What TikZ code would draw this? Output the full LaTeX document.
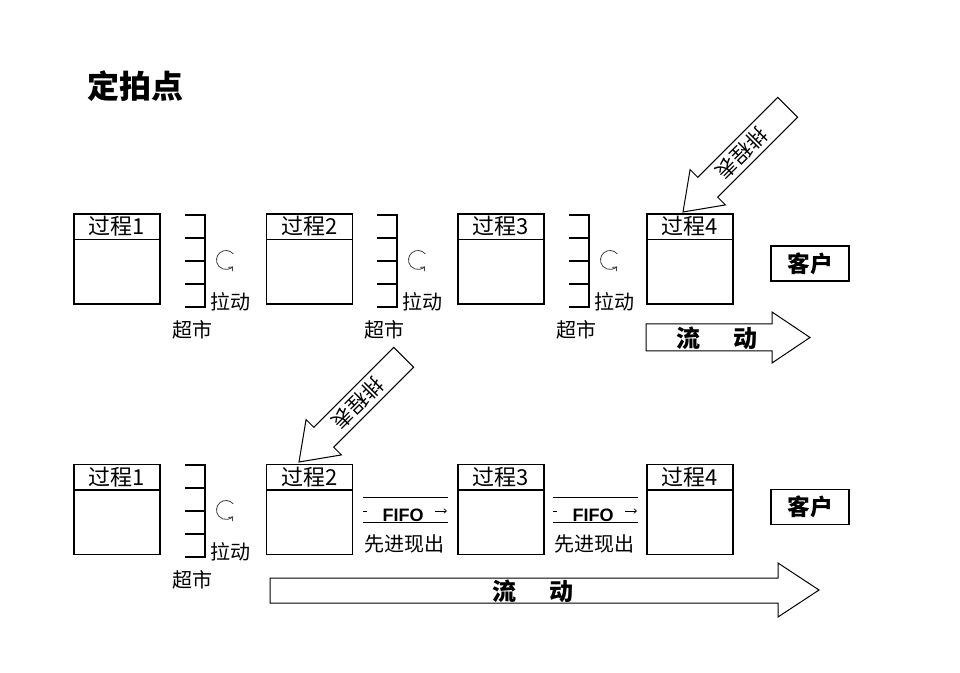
\documentclass[tikz,border=0pt]{standalone}
\usepackage{fontspec}
\setmainfont{Noto Sans CJK SC}
\newfontfamily\latinb{Liberation Sans}
\usetikzlibrary{arrows.meta}
\begin{document}
\begin{tikzpicture}[x=0.75pt,y=-0.75pt,
  proc/.style={draw, line width=0.9pt, minimum width=64.5pt, minimum height=67.5pt, inner sep=0pt},
  ptext/.style={font=\fontsize{16.5pt}{18pt}\selectfont, inner sep=0pt},
  lbl/.style={font=\fontsize{15pt}{16pt}\selectfont, inner sep=0pt},
  cust/.style={draw, line width=0.9pt, minimum width=58.5pt, minimum height=26.25pt, inner sep=0pt, font=\fontsize{17pt}{18pt}\selectfont\bfseries},
  flowtxt/.style={font=\fontsize{18pt}{20pt}\selectfont\bfseries, inner sep=0pt},
  blockarrow/.style={draw, line width=0.75pt, fill=white, line join=miter},
  schedtxt/.style={font=\fontsize{15.5pt}{16pt}\selectfont, inner sep=0pt, rotate=225},
  smkt/.pic={\draw[line width=1.6pt] (-20,0) -- (0,0) -- (0,92) -- (-20,92);
    \foreach \t in {23,46,69} \draw[line width=1.6pt] (-20,\t) -- (0,\t);},
  pull/.style={line width=0.6pt, draw=black!75, -{Straight Barb[length=2.5pt,width=4pt]}}
]
\useasboundingbox (0,0) rectangle (960,673);

% title
\node[font=\fontsize{24pt}{26pt}\selectfont\bfseries, inner sep=0pt] (title) at (135,86) {定拍点};

% ---------- row 1 ----------
\foreach \x/\n in {117/1,309.5/2,501/3,690/4}{
  \node[proc] (a\n) at (\x,259) {};
  \draw[line width=0.9pt] ([yshift=-19.5pt]a\n.north west) -- ([yshift=-19.5pt]a\n.north east);
  \node[ptext] (at\n) at ([yshift=-9.75pt]a\n.north) {过程\n};
}
\node[cust] (c1) at (810,263.5) {客户};

\foreach \bx/\n in {205/1,397/2,589/3}{
  \pic (sm\n) at (\bx,215) {smkt};
  \coordinate (pc\n) at (\bx+21,260);
  \draw[pull] ([shift={(-40:9.5)}]pc\n) arc[start angle=-40, end angle=-318, radius=9.5];
  \node[lbl] (pl\n) at (\bx+25,302) {拉动};
  \node[lbl] (sl\n) at (\bx-13,330) {超市};
}

% flow arrow row 1
\draw[blockarrow] (810,337.5) -- (772,312) -- (772,324) -- (646,324) -- (646,351) -- (772,351) -- (772,363) -- cycle;
\node[flowtxt] (f1t) at (717,338) {流\hspace{1.4em}动};

% schedule arrow to process 4
\begin{scope}[shift={(683,212)}, rotate=45]
  \draw[blockarrow] (0,0) -- (35,25) -- (35,14) -- (148,14) -- (148,-14) -- (35,-14) -- (35,-25) -- cycle;
  \node[schedtxt] (s1t) at (83,0) {排程表};
\end{scope}

% ---------- row 2 ----------
\foreach \x/\n in {117/1,309.5/2,501/3,690/4}{
  \node[proc] (b\n) at (\x,509.5) {};
  \draw[line width=0.9pt] ([yshift=-19.5pt]b\n.north west) -- ([yshift=-19.5pt]b\n.north east);
  \node[ptext] (bt\n) at ([yshift=-9.75pt]b\n.north) {过程\n};
}
\node[cust] (c2) at (810,507) {客户};

\pic (sm4) at (205,465) {smkt};
\coordinate (pc4) at (226,510);
\draw[pull] ([shift={(-40:9.5)}]pc4) arc[start angle=-40, end angle=-318, radius=9.5];
\node[lbl] (pl4) at (230,552) {拉动};
\node[lbl] (sl4) at (192,580) {超市};

% FIFO lanes
\foreach \lx/\n in {363/1,553/2}{
  \draw[line width=0.6pt] (\lx,497) -- (\lx+85,497);
  \draw[line width=0.6pt] (\lx,522) -- (\lx+85,522);
  \coordinate (fl\n) at (\lx,511);
  \draw[line width=0.5pt] (fl\n) -- ++(4,0);
  \draw[line width=0.5pt, -{Straight Barb[length=2pt,width=3.5pt]}] ([xshift=54pt]fl\n) -- ++(12,0);
  \node[font=\latinb\fontsize{13.5pt}{14pt}\selectfont\bfseries, inner sep=0pt] (ff\n) at (\lx+40,515) {FIFO};
  \node[lbl] (fx\n) at (\lx+41,544) {先进现出};
}

% flow arrow row 2
\draw[blockarrow] (819,590) -- (778,563) -- (778,578) -- (270,578) -- (270,603) -- (778,603) -- (778,617) -- cycle;
\node[flowtxt] (f2t) at (533,591) {流\hspace{1.4em}动};

% schedule arrow to process 2
\begin{scope}[shift={(299,462)}, rotate=45]
  \draw[blockarrow] (0,0) -- (35,25) -- (35,14) -- (148,14) -- (148,-14) -- (35,-14) -- (35,-25) -- cycle;
  \node[schedtxt] (s2t) at (83,0) {排程表};
\end{scope}
\end{tikzpicture}
\end{document}
